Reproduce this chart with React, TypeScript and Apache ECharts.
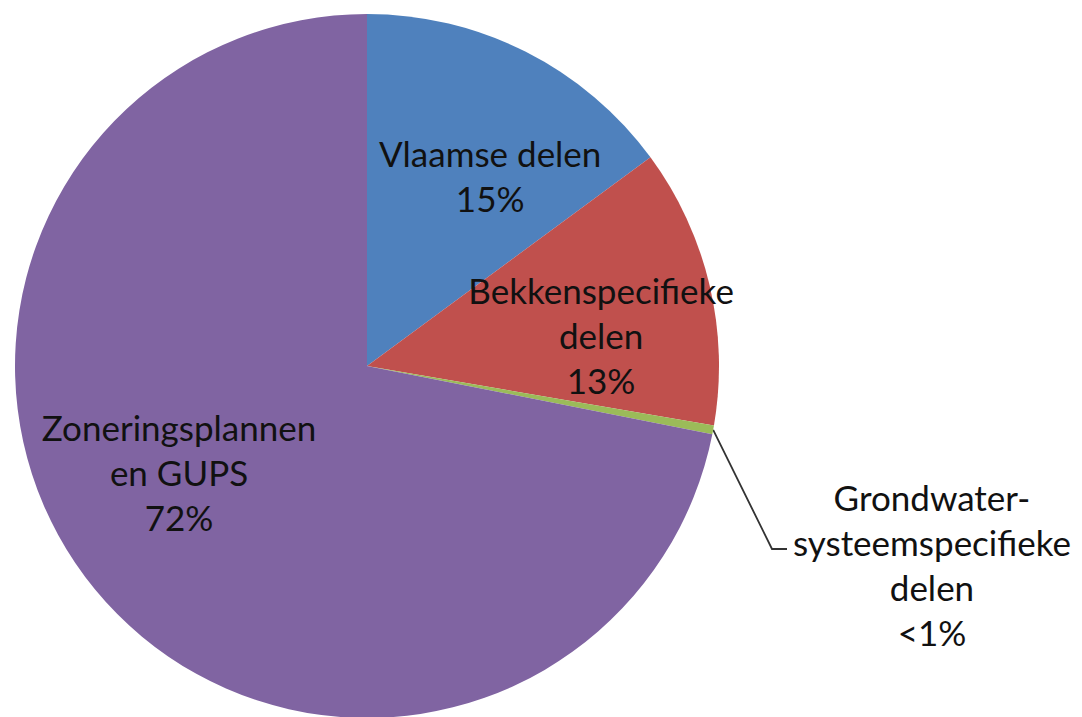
import React, { useEffect, useRef } from "react";
import * as echarts from "echarts";

const categories = [
  "Vlaamse delen",
  "Bekkenspecifieke\ndelen",
  "Grondwater-\nsysteemspecifieke\ndelen",
  "Zoneringsplannen\nen GUPS",
];
const values = [14.9, 12.8, 0.4, 71.9];
const percentLabels = ["15%", "13%", "<1%", "72%"];
const colors = ["#4F81BD", "#C0504D", "#9BBB59", "#8064A2"];

// label block centres, as offsets from the pie centre in units of the radius
const labelOffsets: [number, number][] = [
  [0.350, -0.540],
  [0.665, -0.088],
  [1.605, 0.565],
  [-0.534, 0.301],
];

export default function App() {
  const ref = useRef<HTMLDivElement>(null);
  useEffect(() => {
    if (!ref.current) return;
    const chart = echarts.init(ref.current, undefined, { renderer: "svg" });
    const cx = 367;
    const cy = 366;
    const r = 352;
    chart.setOption({
      animation: false,
      backgroundColor: "#ffffff",
      series: [
        {
          type: "pie",
          center: [cx, cy],
          radius: [0, r],
          startAngle: 90,
          clockwise: true,
          avoidLabelOverlap: false,
          itemStyle: { borderWidth: 0 },
          label: {
            show: true,
            position: "inside",
            color: "#111111",
            fontFamily: "Lato",
            fontSize: 35,
            lineHeight: 45,
            align: "center",
            verticalAlign: "middle",
            formatter: (p: any) => `${p.name}\n${percentLabels[p.dataIndex]}`,
          },
          labelLine: { show: false },
          labelLayout: (params: any) => {
            const i = params.dataIndex;
            const [ox, oy] = labelOffsets[i];
            const out: any = { x: cx + ox * r, y: cy + oy * r, align: "center", verticalAlign: "middle" };
            if (i === 2) {
              const a = params.labelLinePoints ? params.labelLinePoints[0] : [713, 430];
              out.labelLinePoints = [a, [772, 549], [787, 549]];
            }
            return out;
          },
          data: values.map((v, i) => ({
            name: categories[i],
            value: v,
            itemStyle: { color: colors[i] },
            ...(i === 2
              ? {
                  label: { position: "outside" },
                  labelLine: { show: true, lineStyle: { color: "#333333", width: 1.8 } },
                }
              : {}),
          })),
        },
      ],
    });
    return () => chart.dispose();
  }, []);
  return (
    <div
      ref={ref}
      style={{ position: "fixed", left: 0, top: 0, width: 1082, height: 717 }}
    />
  );
}
